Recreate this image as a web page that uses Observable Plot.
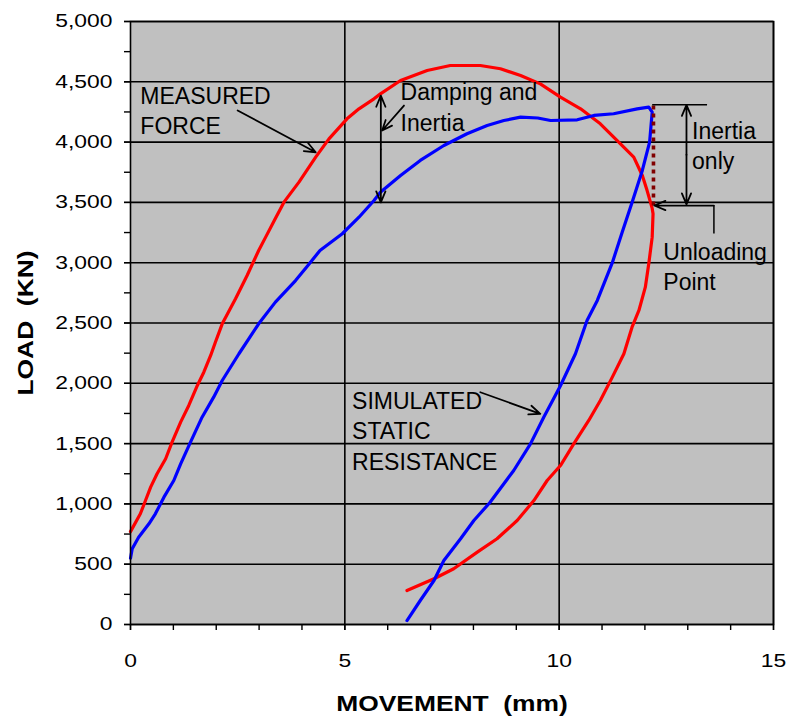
<!DOCTYPE html>
<html>
<head>
<meta charset="utf-8">
<script src="https://cdn.jsdelivr.net/npm/d3@7"></script>
<script src="https://cdn.jsdelivr.net/npm/@observablehq/plot@0.6"></script>
<style>
  html, body { margin: 0; padding: 0; background: #fff; }
  #chart { width: 788px; height: 719px; }
</style>
</head>
<body>
<div id="chart"></div>
<script>
// Measured force (mm, kN) in drawing order
const measuredForce = [
  [0, 770], [0.23, 918], [0.35, 1028], [0.47, 1139], [0.62, 1250], [0.82, 1374],
  [0.97, 1512], [1.17, 1678], [1.36, 1816], [1.56, 1982], [1.71, 2092], [1.87, 2231],
  [1.98, 2341], [2.14, 2493], [2.45, 2701], [2.72, 2894], [2.99, 3101], [3.15, 3210],
  [3.37, 3360], [3.58, 3502], [3.93, 3668], [4.32, 3875], [4.63, 4027], [5.05, 4193], [5.33, 4276],
  [5.68, 4359], [5.83, 4400], [6.30, 4511], [6.92, 4594], [7.46, 4635], [8.16, 4635],
  [8.63, 4608], [9.10, 4552], [9.56, 4483], [10.03, 4373], [10.50, 4276], [10.96, 4152],
  [11.43, 3986], [11.74, 3875], [11.94, 3723], [12.05, 3600], [12.17, 3450], [12.19, 3405],
  [12.17, 3212], [12.09, 2991], [12.01, 2797], [11.86, 2604], [11.70, 2465], [11.51, 2245],
  [11.24, 2051], [10.96, 1857], [10.69, 1692], [10.34, 1498], [10.03, 1318], [9.72, 1194],
  [9.41, 1028], [9.02, 862], [8.55, 711], [8.09, 600], [7.54, 462], [7.08, 379], [6.45, 282]
];

// Simulated static resistance (mm, kN) in drawing order
const simulatedStatic = [
  [0, 550], [0.04, 628], [0.19, 724], [0.43, 835], [0.58, 918], [0.78, 1056], [1.01, 1194],
  [1.17, 1332], [1.40, 1512], [1.67, 1719], [1.94, 1885], [2.14, 2023], [2.53, 2245],
  [2.99, 2493], [3.38, 2673], [3.85, 2852], [4.10, 2960], [4.42, 3101], [4.94, 3240],
  [5.33, 3377], [5.68, 3516], [5.83, 3585], [6.30, 3723], [6.76, 3848], [7.31, 3972],
  [7.85, 4069], [8.32, 4138], [8.71, 4179], [9.10, 4207], [9.50, 4200], [9.80, 4179],
  [10.42, 4185], [10.81, 4221], [11.27, 4235], [11.82, 4276], [12.09, 4290], [12.17, 4248],
  [12.11, 4000], [11.94, 3765], [11.70, 3500], [11.47, 3253], [11.24, 3000], [10.89, 2687],
  [10.65, 2521], [10.38, 2245], [10.03, 1980], [9.64, 1719], [9.33, 1498], [8.94, 1277],
  [8.38, 1010], [8.01, 862], [7.70, 711], [7.31, 531], [7.08, 365], [6.76, 199], [6.45, 33]
];

// Axis ticks
const xMajorTicks = [0, 5, 10, 15];
const xMinorTicks = d3.range(0, 16, 1);
const yMajorTicks = d3.range(0, 5001, 500);
const yMinorTicks = d3.range(0, 5001, 250);
const xTitle = "MOVEMENT  (mm)";
const yTitle = "LOAD  (KN)";

// Annotation texts (x, baseline y in data units)
const labelTexts = [
  {text: "MEASURED", x: 0.23, y: 4317},
  {text: "FORCE", x: 0.23, y: 4069},
  {text: "Damping and", x: 6.30, y: 4345},
  {text: "Inertia", x: 6.30, y: 4088},
  {text: "Inertia", x: 13.10, y: 4027},
  {text: "only", x: 13.10, y: 3779},
  {text: "Unloading", x: 12.43, y: 3024},
  {text: "Point", x: 12.43, y: 2775},
  {text: "SIMULATED", x: 5.17, y: 1789},
  {text: "STATIC", x: 5.17, y: 1540},
  {text: "RESISTANCE", x: 5.17, y: 1283}
];

// Annotation arrows
const arrowLinks = [
  {x1: 2.50, y1: 4262, x2: 4.32, y2: 3916},   // MEASURED FORCE pointer
  {x1: 6.38, y1: 4303, x2: 5.87, y2: 4096},   // Damping pointer
  {x1: 5.84, y1: 3940, x2: 5.84, y2: 4385},   // Damping double arrow up
  {x1: 5.84, y1: 3940, x2: 5.84, y2: 3500},   // Damping double arrow down
  {x1: 12.97, y1: 3896, x2: 12.97, y2: 4309}, // Inertia only up
  {x1: 12.97, y1: 3896, x2: 12.97, y2: 3483}, // Inertia only down
  {x1: 13.61, y1: 3474, x2: 12.22, y2: 3474}, // Unloading point
  {x1: 8.16, y1: 1926, x2: 9.56, y2: 1747}    // Simulated pointer
];
// Plain annotation lines
const plainLines = [
  {x1: 12.17, y1: 4309, x2: 13.45, y2: 4309},
  {x1: 13.61, y1: 3474, x2: 13.61, y2: 3242}
];
// Inertia dotted line
const inertiaDotted = [[12.20, 4303], [12.20, 3474]];

const chart = Plot.plot({
  width: 788,
  height: 719,
  marginLeft: 130,
  marginRight: 15,
  marginTop: 21,
  marginBottom: 95,
  x: {domain: [0, 15]},
  y: {domain: [0, 5000]},
  style: {fontFamily: "'Liberation Sans', Arial, sans-serif", fontSize: "19px", background: "#ffffff", color: "#000"},
  marks: [
    Plot.frame({fill: "#c0c0c0"}),
    Plot.gridY(yMajorTicks, {stroke: "#000", strokeOpacity: 1, strokeWidth: 1.6}),
    Plot.gridX([5, 10, 15], {stroke: "#000", strokeOpacity: 1, strokeWidth: 1.6}),
    Plot.line(measuredForce, {x: d => d[0], y: d => d[1], stroke: "#ff0000", strokeWidth: 3.2, curve: "linear"}),
    Plot.line(simulatedStatic, {x: d => d[0], y: d => d[1], stroke: "#0000ff", strokeWidth: 3.2, curve: "linear"}),
    Plot.line(inertiaDotted, {x: d => d[0], y: d => d[1], stroke: "#800000", strokeWidth: 3.6, strokeDasharray: "4,4", strokeLinecap: "butt"}),
    Plot.link(plainLines, {x1: "x1", y1: "y1", x2: "x2", y2: "y2", stroke: "#000", strokeWidth: 1.5}),
    Plot.arrow(arrowLinks, {x1: "x1", y1: "y1", x2: "x2", y2: "y2", stroke: "#000", strokeWidth: 1.8, headLength: 10, headAngle: 45}),
    Plot.text(labelTexts, {x: "x", y: "y", text: "text", textAnchor: "start", lineAnchor: "bottom", fontSize: 23, fill: "#000"}),
    Plot.frame({stroke: "#000", strokeWidth: 1.6}),
    Plot.axisX({ticks: xMinorTicks, tickSize: 6, tickFormat: () => "", label: null, strokeWidth: 1.4}),
    Plot.axisX({ticks: xMajorTicks, tickSize: 6, tickPadding: 23, tickFormat: d => String(d), label: null, fontSize: 18.6, strokeWidth: 1.4}),
    Plot.axisY({ticks: yMinorTicks, tickSize: 6, tickFormat: () => "", label: null, strokeWidth: 1.4}),
    Plot.axisY({ticks: yMajorTicks, tickSize: 6, tickPadding: 12, tickFormat: d3.format(","), label: null, fontSize: 18.6, strokeWidth: 1.4}),
    Plot.text([xTitle], {frameAnchor: "bottom", dy: 86, fontSize: 22, fontWeight: "bold", fill: "#000"}),
    Plot.text([yTitle], {frameAnchor: "left", textAnchor: "middle", dx: -105, rotate: -90, fontSize: 22, fontWeight: "bold", fill: "#000"})
  ]
});
document.getElementById("chart").appendChild(chart);

// Axis texts in the reference are drawn horizontally widened; widen them about their anchor
chart.querySelectorAll("text").forEach(t => {
  const g = t.closest("g[aria-label]");
  const lab = g ? g.getAttribute("aria-label") : "";
  const content = t.textContent;
  let sx = null;
  if (content === xTitle || content === yTitle) sx = 1.2;
  else if (lab && lab.indexOf("tick label") >= 0) sx = 1.23;
  if (sx == null) return;
  const tr = t.getAttribute("transform") || "";
  const x = parseFloat(t.getAttribute("x")) || 0;
  const y = parseFloat(t.getAttribute("y")) || 0;
  t.setAttribute("transform", `${tr} translate(${x},${y}) scale(${sx},1) translate(${-x},${-y})`);
});
</script>
</body>
</html>
